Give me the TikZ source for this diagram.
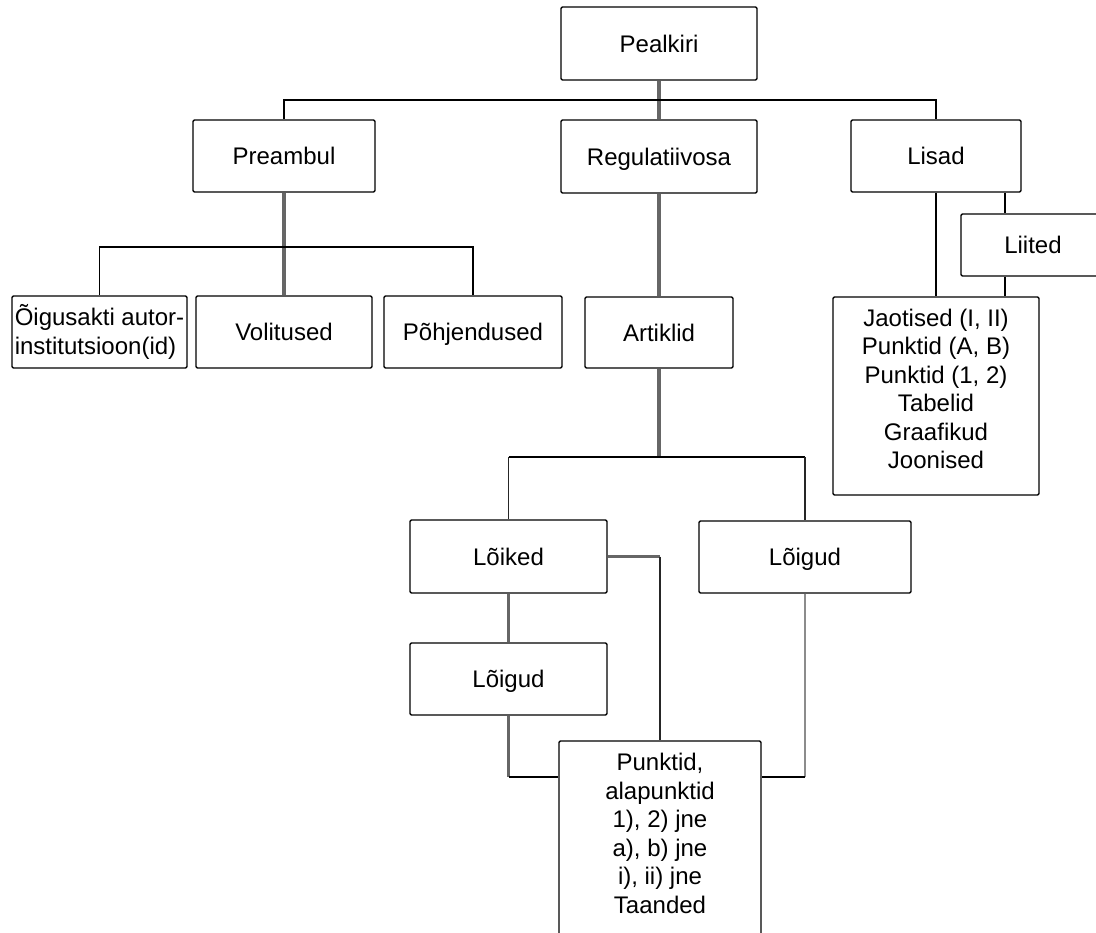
\documentclass[tikz,border=0pt]{standalone}
\usepackage{fontspec}
\setmainfont{Liberation Sans}
\begin{document}
\begin{tikzpicture}[x=0.75pt,y=-0.75pt,
  box/.style={draw=black, line width=1.1pt, rounded corners=1pt, inner sep=0pt, fill=white},
  txt/.style={align=center, inner sep=0pt, font=\fontsize{18}{21.4}\selectfont},
  one/.style={text height=12.9pt, text depth=0pt},
  gline/.style={draw=black!60, line width=2.4pt},
  bline/.style={draw=black, line width=1.1pt},
  dline/.style={draw=black!85, line width=1.3pt},
  lgline/.style={draw=black!45, line width=1.6pt}]
\useasboundingbox (0,0) rectangle (1096,932);
\fill[white] (0,0) rectangle (1096,932);
\clip (0,0) rectangle (1096,932);

\coordinate (busA) at (659,100);
\coordinate (busB) at (284,247);
\coordinate (busC) at (659,457);

% nodes
\node[box, txt, one, minimum width=147pt, minimum height=54.75pt] (pk) at (659,43.5) {Pealkiri};
\node[box, txt, one, minimum width=136.5pt, minimum height=54pt] (pre) at (284,156) {Preambul};
\node[box, txt, one, minimum width=147pt, minimum height=54.75pt] (reg) at (659,156.5) {Regulatiivosa};
\node[box, txt, one, minimum width=127.5pt, minimum height=54pt] (lis) at (936,156) {Lisad};
\node[box, txt, one, minimum width=108pt, minimum height=46.5pt] (lii) at (1033,245) {Liited};
\node[box, txt, align=left, minimum width=131.25pt, minimum height=54pt] (oig) at (99.5,332) {Õigusakti autor-\\institutsioon(id)};
\node[box, txt, one, minimum width=132pt, minimum height=54pt] (vol) at (284,332) {Volitused};
\node[box, txt, one, minimum width=133.5pt, minimum height=54pt] (poh) at (473,332) {Põhjendused};
\node[box, txt, one, minimum width=111pt, minimum height=53.25pt] (art) at (659,332.5) {Artiklid};
\node[box, minimum width=154.5pt, minimum height=148.5pt] (jao) at (936,396) {};
\node[txt] (jaotxt) at (936,389) {Jaotised (I, II)\\Punktid (A, B)\\Punktid (1, 2)\\Tabelid\\Graafikud\\Joonised};
\node[box, txt, one, minimum width=147.75pt, minimum height=54.75pt] (loik) at (508.5,556.5) {Lõiked};
\node[box, txt, one, minimum width=159pt, minimum height=54pt] (loigR) at (805,557) {Lõigud};
\node[box, txt, one, minimum width=147.75pt, minimum height=54pt] (loigL) at (508.5,679) {Lõigud};
\node[box, minimum width=151.5pt, minimum height=164.25pt] (pun) at (660,850.5) {};
\node[txt] (puntxt) at (660,833.5) {Punktid,\\alapunktid\\1), 2) jne\\a), b) jne\\i), ii) jne\\Taanded};

% top level
\draw[gline] (pk.south) -- (reg.north);
\draw[bline] (pre.north) |- (busA) -| (lis.north);
% preambul
\draw[gline] (pre.south) -- (vol.north);
\draw[bline] (oig.north) |- (busB) -| (poh.north);
% regulatiivosa
\draw[gline] (reg.south) -- (art.north);
\draw[gline] (art.south) -- (busC);
\draw[bline] (loik.north |- busC) -- (loigR.north |- busC);
\draw[dline] (loik.north |- busC) -- (loik.north);
\draw[dline] (loigR.north |- busC) -- (loigR.north);
\draw[gline] (loik.east) -- (loik.east -| pun.north);
\draw[dline] (loik.east -| pun.north) -- (pun.north);
\draw[gline] (loik.south) -- (loigL.north);
\draw[gline] (loigL.south) -- (loigL.south |- 0,777);
\draw[bline] (loigL.south |- 0,777) -- (pun.west |- 0,777);
\draw[lgline] (loigR.south) -- (loigR.south |- 0,777);
\draw[bline] (loigR.south |- 0,777) -- (pun.east |- 0,777);
% lisad
\draw[bline] (lis.south) -- (jao.north);
\draw[bline] (lis.south -| 1005,0) -- (lii.north -| 1005,0);
\draw[bline] (lii.south -| 1005,0) -- (jao.north -| 1005,0);
\end{tikzpicture}
\end{document}
